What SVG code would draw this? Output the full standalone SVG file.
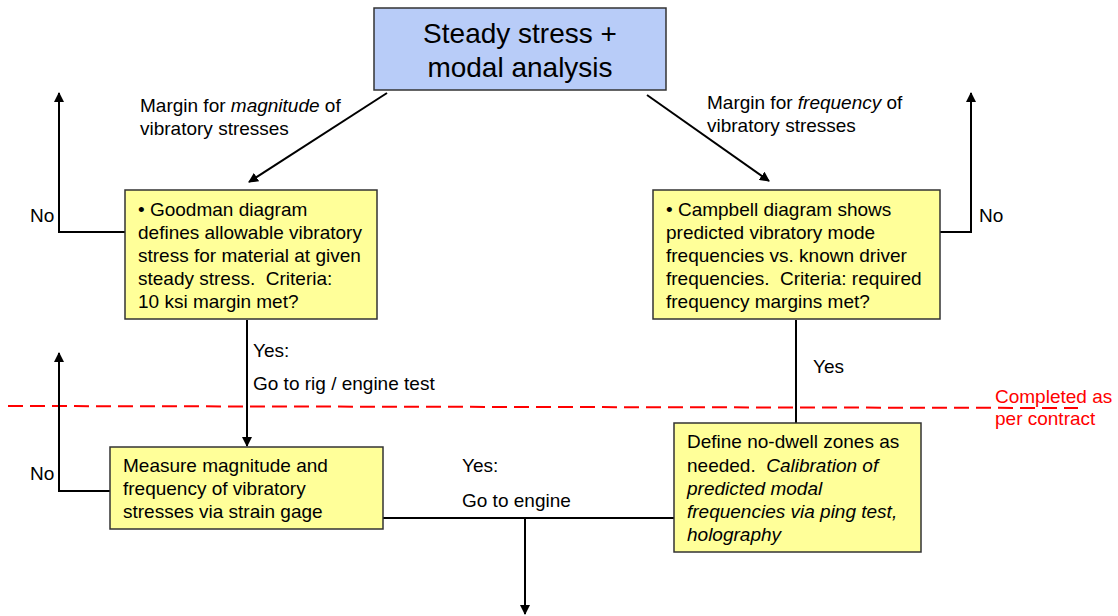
<svg xmlns="http://www.w3.org/2000/svg" width="1118" height="616" viewBox="0 0 1118 616">
<style>
text{font-family:"Liberation Sans",Arial,sans-serif;fill:#000;white-space:pre;}
.t{font-size:19px;}
.big{font-size:28px;}
.red{fill:#ff0000;font-size:19px;}
.box{fill:#ffff99;stroke:#333;stroke-width:1.5;}
.top{fill:#b8ccf8;stroke:#333;stroke-width:1.5;}
.ln{fill:none;stroke:#000;stroke-width:2;}
.arr{fill:none;stroke:#000;stroke-width:2;marker-end:url(#ah);}
</style>
<defs>
<marker id="ah" viewBox="0 0 10 10" refX="9" refY="5" markerWidth="5" markerHeight="5" orient="auto" markerUnits="strokeWidth">
<path d="M0,0 L10,5 L0,10 z" fill="#000"/>
</marker>
</defs>
<rect width="1118" height="616" fill="#fff"/>
<line x1="8" y1="406" x2="1078" y2="408" stroke="#ff0000" stroke-width="2" stroke-dasharray="15 7"/>
<g id="connectors">
<line class="arr" x1="387" y1="93" x2="249" y2="182"/>
<line class="arr" x1="647" y1="95" x2="769" y2="181"/>
<polyline class="arr" points="125,232 59,232 59,93"/>
<polyline class="arr" points="940,232 971,232 971,93"/>
<line class="arr" x1="247" y1="320" x2="247" y2="446"/>
<line class="ln" x1="796" y1="320" x2="796" y2="423"/>
<polyline class="arr" points="110,491 59,491 59,353"/>
<line class="ln" x1="383" y1="518" x2="674" y2="518"/>
<line class="arr" x1="525" y1="518" x2="525" y2="614"/>
</g>
<g id="labels">
<text class="t" x="140" y="112">Margin for <tspan font-style="italic">magnitude</tspan> of</text>
<text class="t" x="140" y="135">vibratory stresses</text>
<text class="t" x="707" y="109">Margin for <tspan font-style="italic">frequency</tspan> of</text>
<text class="t" x="707" y="132">vibratory stresses</text>
<text class="t" x="30" y="222">No</text>
<text class="t" x="979" y="222">No</text>
<text class="t" x="30" y="480">No</text>
<text class="t" x="253" y="357">Yes:</text>
<text class="t" x="253" y="390">Go to rig / engine test</text>
<text class="t" x="813" y="373">Yes</text>
<text class="t" x="462" y="472">Yes:</text>
<text class="t" x="462" y="507">Go to engine</text>
<text class="red" x="995" y="403">Completed as</text>
<text class="red" x="995" y="425">per contract</text>
</g>
<g id="node-top">
<rect class="top" x="374" y="8" width="292" height="82"/>
<text class="big" x="520" y="43" text-anchor="middle">Steady stress +</text>
<text class="big" x="520" y="77" text-anchor="middle">modal analysis</text>
</g>
<g id="node-goodman">
<rect class="box" x="125" y="190" width="252" height="129"/>
<text class="t" x="138" y="216">• Goodman diagram</text>
<text class="t" x="138" y="239">defines allowable vibratory</text>
<text class="t" x="138" y="262">stress for material at given</text>
<text class="t" x="138" y="285">steady stress.  Criteria:</text>
<text class="t" x="138" y="308">10 ksi margin met?</text>
</g>
<g id="node-campbell">
<rect class="box" x="653" y="190" width="287" height="129"/>
<text class="t" x="666" y="216">• Campbell diagram shows</text>
<text class="t" x="666" y="239">predicted vibratory mode</text>
<text class="t" x="666" y="262">frequencies vs. known driver</text>
<text class="t" x="666" y="285">frequencies.  Criteria: required</text>
<text class="t" x="666" y="308">frequency margins met?</text>
</g>
<g id="node-measure">
<rect class="box" x="110" y="447" width="273" height="82"/>
<text class="t" x="123" y="472">Measure magnitude and</text>
<text class="t" x="123" y="495">frequency of vibratory</text>
<text class="t" x="123" y="518">stresses via strain gage</text>
</g>
<g id="node-define">
<rect class="box" x="674" y="423" width="247" height="129"/>
<text class="t" x="687" y="448">Define no-dwell zones as</text>
<text class="t" x="687" y="472">needed.  <tspan font-style="italic">Calibration of</tspan></text>
<text class="t" x="687" y="495" font-style="italic">predicted modal</text>
<text class="t" x="687" y="518" font-style="italic">frequencies via ping test,</text>
<text class="t" x="687" y="541" font-style="italic">holography</text>
</g>
</svg>
